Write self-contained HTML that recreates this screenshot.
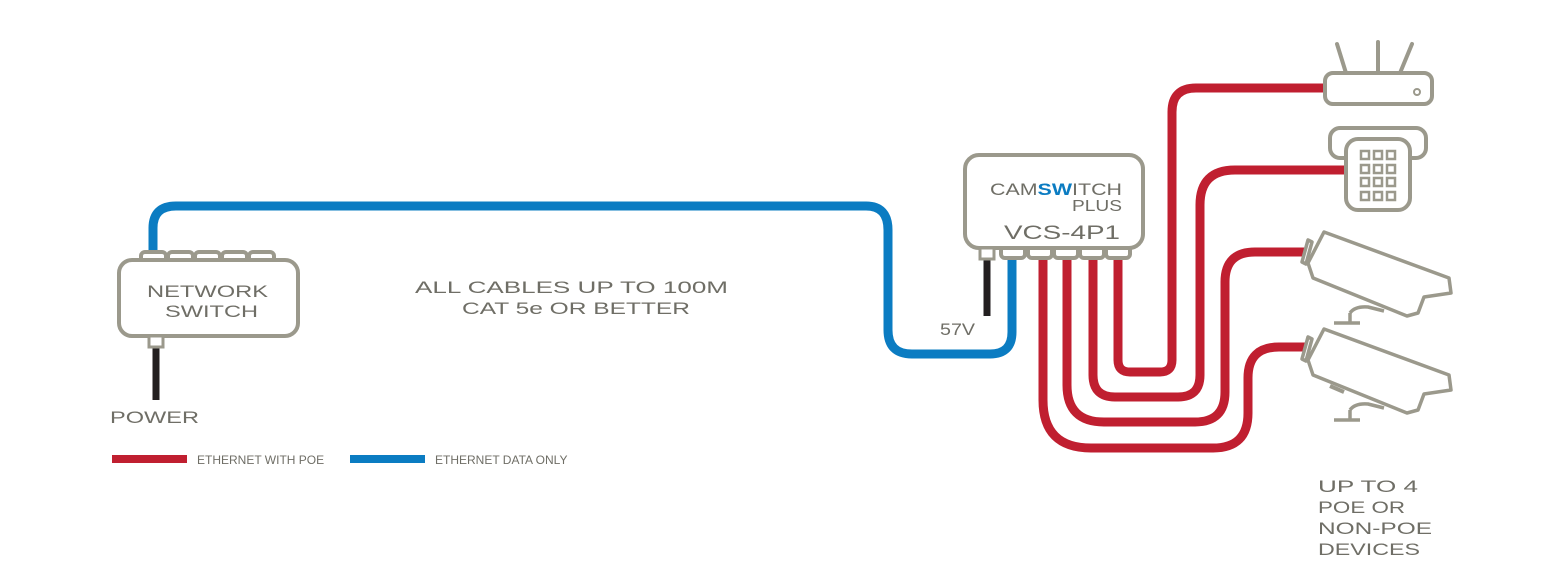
<!DOCTYPE html>
<html><head><meta charset="utf-8"><style>
html,body{margin:0;padding:0;background:#fff;}
svg{display:block;}
text{font-family:"Liberation Sans",sans-serif;fill:#6f6e66;}
</style></head><body>
<svg width="1550" height="587" viewBox="0 0 1550 587" xmlns="http://www.w3.org/2000/svg">
<g fill="none" stroke-linecap="butt">
<path d="M153 258 V228 Q153 206 176 206 H866 Q888 206 888 230 V330 Q888 354 912 354 H990 Q1012 354 1012 332 V258" stroke="#0b7cc2" stroke-width="9"/>
<path d="M1118 258 V360 Q1118 372 1130 372 H1160 Q1172 372 1172 360 V112 Q1172 88 1196 88 H1326" stroke="#c01f30" stroke-width="9"/>
<path d="M1093 258 V375 Q1093 397 1115 397 H1178 Q1200 397 1200 375 V205 Q1200 170 1235 170 H1346" stroke="#c01f30" stroke-width="9"/>
<path d="M1067 258 V385 Q1067 422 1104 422 H1195 Q1225 422 1225 392 V282 Q1225 252 1255 252 H1308" stroke="#c01f30" stroke-width="9"/>
<path d="M1043 258 V400 Q1043 448 1091 448 H1213 Q1248 448 1248 413 V378 Q1248 347 1279 347 H1308" stroke="#c01f30" stroke-width="9"/>
<path d="M156 346 V400" stroke="#231f20" stroke-width="7"/>
<path d="M987 260 V316" stroke="#231f20" stroke-width="7"/>
</g>
<g fill="#fff" stroke="#9b998c" stroke-width="4">
<rect x="141" y="252" width="25" height="11" rx="4"/>
<rect x="168" y="252" width="25" height="11" rx="4"/>
<rect x="195" y="252" width="25" height="11" rx="4"/>
<rect x="222" y="252" width="25" height="11" rx="4"/>
<rect x="249" y="252" width="25" height="11" rx="4"/>
<rect x="119" y="260" width="179" height="76" rx="13"/>
<rect x="149" y="336" width="14" height="11" stroke-width="3"/>
<rect x="1001" y="246" width="24" height="12" rx="4"/>
<rect x="1028" y="246" width="24" height="12" rx="4"/>
<rect x="1054" y="246" width="24" height="12" rx="4"/>
<rect x="1080" y="246" width="24" height="12" rx="4"/>
<rect x="1106" y="246" width="24" height="12" rx="4"/>
<rect x="965" y="155" width="178" height="93" rx="14"/>
<rect x="980" y="248" width="14" height="11" stroke-width="3"/>
<path d="M1346 73 L1337 44 M1378 73 V42 M1400 73 L1412 44" stroke-linecap="round"/>
<rect x="1325" y="73" width="107" height="31" rx="8"/>
<circle cx="1417" cy="92" r="3" stroke-width="2"/>
<rect x="1330" y="128" width="96" height="30" rx="10"/>
<rect x="1346" y="139" width="64" height="71" rx="12"/>
</g>
<g fill="none" stroke="#9b998c" stroke-width="2.5">
<rect x="1361" y="151" width="8" height="8"/><rect x="1374" y="151" width="8" height="8"/><rect x="1387" y="151" width="8" height="8"/>
<rect x="1361" y="165" width="8" height="8"/><rect x="1374" y="165" width="8" height="8"/><rect x="1387" y="165" width="8" height="8"/>
<rect x="1361" y="178" width="8" height="8"/><rect x="1374" y="178" width="8" height="8"/><rect x="1387" y="178" width="8" height="8"/>
<rect x="1361" y="192" width="8" height="8"/><rect x="1374" y="192" width="8" height="8"/><rect x="1387" y="192" width="8" height="8"/>
</g>
<g id="cam" fill="#fff" stroke="#9b998c" stroke-width="3.5" stroke-linejoin="round">
<path d="M1350 313 V323 M1334 323 H1360" fill="none"/>
<path d="M1350 313 Q1355 306 1368 307 L1384 311" fill="none"/>
<path d="M1324 232 L1449 278 L1451 293 L1424 297 L1418 313 L1407 316 L1313 278 L1308 263 Z"/>
<path d="M1308 240 L1302 262 L1306 264 L1312 242 Z"/>
</g>
<use href="#cam" transform="translate(0,97)"/>
<path d="M1330 386 L1344 392" stroke="#9b998c" stroke-width="4"/>
<path d="M112 459 H187" stroke="#c01f30" stroke-width="8"/>
<path d="M350 459 H425" stroke="#0b7cc2" stroke-width="8"/>
<text x="197" y="464" font-size="12">ETHERNET WITH POE</text>
<text x="435" y="464" font-size="12">ETHERNET DATA ONLY</text>
<text x="147" y="297" font-size="17" textLength="121" lengthAdjust="spacingAndGlyphs">NETWORK</text>
<text x="165" y="317" font-size="17" textLength="93" lengthAdjust="spacingAndGlyphs">SWITCH</text>
<text x="110" y="423" font-size="17" textLength="89" lengthAdjust="spacingAndGlyphs">POWER</text>
<text x="415" y="293" font-size="17" textLength="313" lengthAdjust="spacingAndGlyphs">ALL CABLES UP TO 100M</text>
<text x="462" y="314" font-size="17" textLength="228" lengthAdjust="spacingAndGlyphs">CAT 5e OR BETTER</text>
<text x="940" y="335" font-size="17" textLength="35" lengthAdjust="spacingAndGlyphs">57V</text>
<text x="990" y="195" font-size="17" textLength="132" lengthAdjust="spacingAndGlyphs">CAM<tspan fill="#0b7cc2" font-weight="bold">SW</tspan>ITCH</text>
<text x="1072" y="211" font-size="16" textLength="50" lengthAdjust="spacingAndGlyphs">PLUS</text>
<text x="1004" y="239" font-size="19" textLength="116" lengthAdjust="spacingAndGlyphs">VCS-4P1</text>
<text x="1318" y="492" font-size="17" textLength="100" lengthAdjust="spacingAndGlyphs">UP TO 4</text>
<text x="1318" y="513" font-size="17" textLength="87" lengthAdjust="spacingAndGlyphs">POE OR</text>
<text x="1318" y="534" font-size="17" textLength="114" lengthAdjust="spacingAndGlyphs">NON-POE</text>
<text x="1318" y="555" font-size="17" textLength="102" lengthAdjust="spacingAndGlyphs">DEVICES</text>
</svg>
</body></html>
